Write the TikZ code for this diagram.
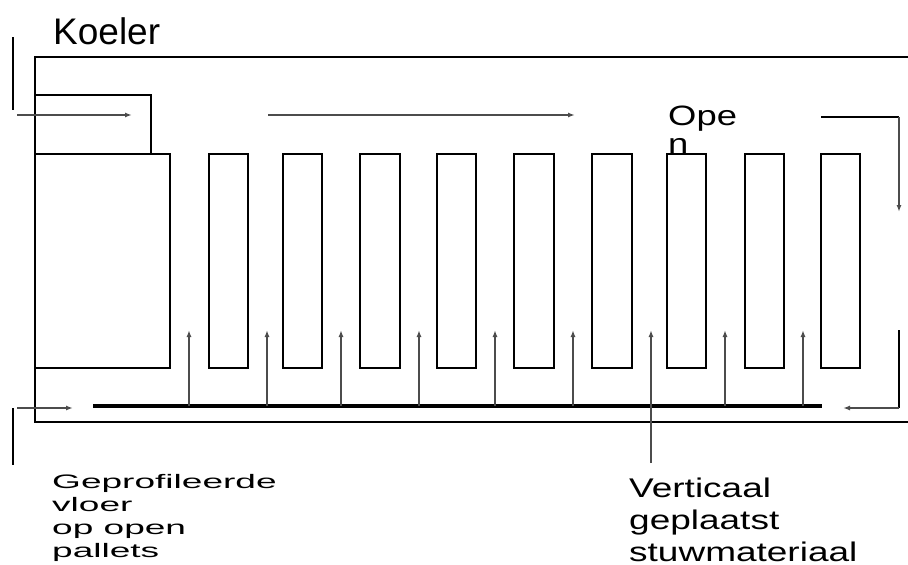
\documentclass[tikz,border=0pt]{standalone}
\usepackage{fontspec}
\setmainfont{Liberation Sans}
\usetikzlibrary{arrows.meta}
\begin{document}
\begin{tikzpicture}[x=1pt,y=-1pt,
  wall/.style={draw=black,line width=1.8pt},
  box/.style={draw=black,line width=1.8pt},
  flow/.style={draw=black!70,line width=1.5pt,-{Latex[length=7pt,width=5pt]}},
  edgemark/.style={draw=black,line width=2.6pt},
  floorline/.style={draw=black,line width=3.2pt},
  lbl/.style={inner sep=0pt,anchor=base west}]
\useasboundingbox (0,0) rectangle (908,565);
% cooler outline
\draw[wall] (908,57) -- (35,57) -- (35,422) -- (908,422);
% markers
\draw[edgemark] (13,37) -- (13,110);
\draw[edgemark] (13,408) -- (13,465);
% top-left small box and big pallet
\draw[box] (35,95) rectangle (151,154);
\draw[box] (35,154) rectangle (170,368);
% narrow bars
\foreach \l/\r [count=\i] in {209/248,283/322,360/400,437/476,514/554,592/632,667/706,745/784,821/860}
  \draw[box] (\l,154) rectangle (\r,368);
% coordinates for flows
\coordinate (tlA) at (17,115); \coordinate (tlB) at (132,115);
\coordinate (tA) at (268,115); \coordinate (tB) at (575,115);
\coordinate (trA) at (821,117); \coordinate (trC) at (899,117); \coordinate (trB) at (899,212);
\coordinate (blA) at (17,408); \coordinate (blB) at (73,408);
\coordinate (brA) at (899,330); \coordinate (brC) at (899,408); \coordinate (brB) at (843,408);
\coordinate (fA) at (93,406); \coordinate (fB) at (822,406);
\draw[flow] (tlA) -- (tlB);
\draw[flow] (tA) -- (tB);
\draw[edgemark] (trA) -- (trC);
\draw[flow] (trC) -- (trB);
\draw[flow] (blA) -- (blB);
\draw[edgemark] (brA) -- (brC);
\draw[flow] (brC) -- (brB);
\draw[floorline] (fA) -- (fB);
% upward flows between pallets
\foreach \x in {189,267,341,419,495,573,725,803}
  \draw[flow] (\x,406) -- (\x,330);
\coordinate (vA) at (651,463); \coordinate (vB) at (651,330);
\draw[flow] (vA) -- (vB);
% labels
\node[lbl,font=\fontsize{37}{44}\selectfont] (koeler) at (53,44) {Koeler};
\node[lbl,font=\fontsize{28}{28}\selectfont] (open1) at (668,125) {\scalebox{1.3}[1]{Ope}};
\node[lbl,font=\fontsize{28}{28}\selectfont] (open2) at (668,153) {\scalebox{1.3}[1]{n}};
\node[lbl,font=\fontsize{19.5}{23}\selectfont] (g1) at (52,488) {\scalebox{1.9}[1]{Geprofileerde}};
\node[lbl,font=\fontsize{19.5}{23}\selectfont] (g2) at (52,511) {\scalebox{1.9}[1]{vloer}};
\node[lbl,font=\fontsize{19.5}{23}\selectfont] (g3) at (52,534) {\scalebox{1.9}[1]{op open}};
\node[lbl,font=\fontsize{19.5}{23}\selectfont] (g4) at (52,557) {\scalebox{1.9}[1]{pallets}};
\node[lbl,font=\fontsize{27}{32}\selectfont] (v1) at (629,497) {\scalebox{1.37}[1]{Verticaal}};
\node[lbl,font=\fontsize{27}{32}\selectfont] (v2) at (629,529) {\scalebox{1.37}[1]{geplaatst}};
\node[lbl,font=\fontsize{27}{32}\selectfont] (v3) at (629,561) {\scalebox{1.37}[1]{stuwmateriaal}};
\end{tikzpicture}
\end{document}
